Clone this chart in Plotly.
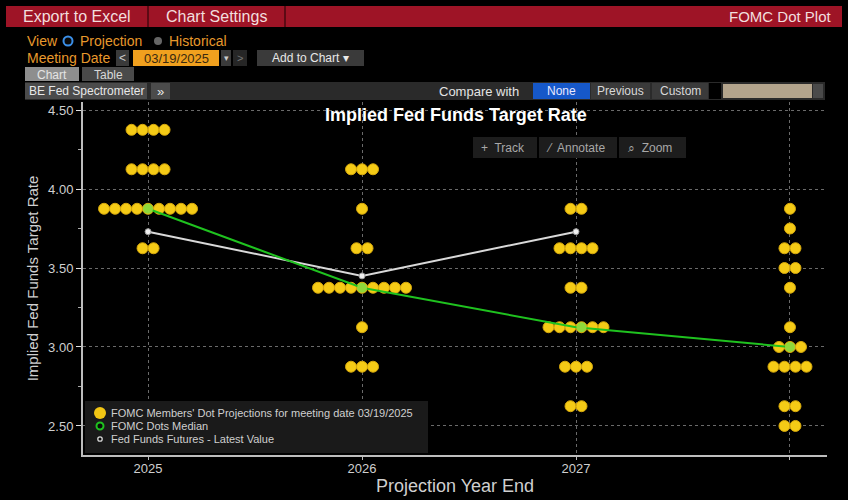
import plotly.graph_objects as go

# ---------------- data ----------------
categories = ["2025", "2026", "2027", "Longer Run"]
tick_labels = ["2025", "2026", "2027", ""]

dot_rates_2025 = [4.375, 4.125, 3.875, 3.625]
dot_counts_2025 = [4, 4, 9, 2]
dot_rates_2026 = [4.125, 3.875, 3.625, 3.375, 3.125, 2.875]
dot_counts_2026 = [3, 1, 2, 9, 1, 3]
dot_rates_2027 = [3.875, 3.625, 3.375, 3.125, 2.875, 2.625]
dot_counts_2027 = [2, 4, 2, 6, 3, 2]
dot_rates_lr = [3.875, 3.75, 3.625, 3.5, 3.375, 3.125, 3.0, 2.875, 2.625, 2.5]
dot_counts_lr = [1, 1, 2, 2, 1, 1, 3, 4, 2, 2]

median_values = [3.875, 3.375, 3.125, 3.0]
futures_categories = ["2025", "2026", "2027"]
futures_values = [3.73, 3.45, 3.73]

y_ticks = [2.5, 3.0, 3.5, 4.0, 4.5]

# ---------------- geometry helpers ----------------
W, H = 848, 500
L, R, T, B = 83, 827, 102, 455
def px(x):
    return (x - L) / (R - L)
def py(y):
    return (B - y) / (B - T)

DOT_STEP = 11 / 214.0  # horizontal spacing between stacked dots (category units)

dot_groups = [
    (dot_rates_2025, dot_counts_2025),
    (dot_rates_2026, dot_counts_2026),
    (dot_rates_2027, dot_counts_2027),
    (dot_rates_lr, dot_counts_lr),
]
dx, dy = [], []
med_x = []
for ci, (rates, counts) in enumerate(dot_groups):
    for r, n in zip(rates, counts):
        for k in range(n):
            dx.append(ci + (k - (n - 1) / 2) * DOT_STEP)
            dy.append(r)
        if r == median_values[ci]:
            med_x.append(ci + (n // 2 - (n - 1) / 2) * DOT_STEP)

cat_index = {c: i for i, c in enumerate(categories)}

fig = go.Figure()

fig.add_trace(go.Scatter(
    x=[cat_index[c] for c in futures_categories], y=futures_values, mode="lines+markers",
    line=dict(color="#d9d9d9", width=2),
    marker=dict(symbol="circle", size=6, color="#f0f0f0", line=dict(color="#999", width=1)),
    showlegend=False, hoverinfo="skip"))
fig.add_trace(go.Scatter(
    x=dx, y=dy, mode="markers",
    marker=dict(symbol="circle", size=11, color="#f5cb16", line=dict(color="#d6a80c", width=1)),
    showlegend=False, hoverinfo="skip"))
fig.add_trace(go.Scatter(
    x=[cat_index[c] for c in categories], y=median_values, mode="lines",
    line=dict(color="#1fc21f", width=2), showlegend=False, hoverinfo="skip"))
fig.add_trace(go.Scatter(
    x=med_x, y=median_values, mode="markers",
    marker=dict(symbol="circle", size=10, color="#8fd83a", line=dict(width=0)),
    showlegend=False, hoverinfo="skip"))

FONT = "Liberation Sans, Arial, sans-serif"
shapes = []
ann = []

def rect(x0, y0, x1, y1, fill, line=None):
    shapes.append(dict(type="rect", xref="paper", yref="paper", layer="above",
                       x0=px(x0), x1=px(x1), y0=py(y1), y1=py(y0),
                       fillcolor=fill, line=dict(width=0) if line is None else line))

def circ(cx, cy, r, fill, lc=None, lw=0):
    shapes.append(dict(type="circle", xref="paper", yref="paper", layer="above",
                       x0=px(cx - r), x1=px(cx + r), y0=py(cy + r), y1=py(cy - r),
                       fillcolor=fill, line=dict(color=lc or fill, width=lw)))

def text(x, y, s, size=12, color="#ddd", anchor="left", bold=False):
    if bold:
        s = "<b>" + s + "</b>"
    ann.append(dict(xref="paper", yref="paper", x=px(x), y=py(y), text=s,
                    showarrow=False, xanchor=anchor, yanchor="middle",
                    font=dict(family=FONT, size=size, color=color)))

# header bar
rect(6, 6, 842, 27, "#9e1426")
rect(147, 6, 149, 27, "#5c0a14")
rect(284, 6, 286, 27, "#5c0a14")
text(21, 16.5, "Export to Excel", 16, "#f2dede")
text(164, 16.5, "Chart Settings", 16, "#f2dede")
text(834, 16.5, "FOMC Dot Plot", 15, "#f2dede", anchor="right")

# view row
ORANGE = "#e8992c"
text(25, 41, "View", 14, ORANGE)
circ(68, 41, 4.5, "#0a0a0a", "#3b8fe8", 2)
text(78, 41, "Projection", 14, ORANGE)
circ(158, 41, 4, "#666666")
text(167, 41, "Historical", 14, ORANGE)

# meeting date row
text(25, 58, "Meeting Date", 14, ORANGE)
rect(116, 50, 129, 66, "#3a3a3a")
text(122.5, 58, "&lt;", 12, "#ccc", anchor="center")
rect(133, 50, 219, 66, "#f0a01e")
text(176, 58, "03/19/2025", 13, "#3a2a10", anchor="center")
rect(221, 50, 231, 66, "#3a3a3a")
text(226, 58, "▾", 9, "#ccc", anchor="center")
rect(233, 50, 247, 66, "#262626")
text(240, 58, "&gt;", 11, "#777", anchor="center")
rect(257, 50, 364, 66, "#3a3a3a")
text(310, 58, "Add to Chart ▾", 12, "#e8e8e8", anchor="center")

# tabs
rect(25, 67, 79, 81, "#8e8e8e")
text(52, 74.5, "Chart", 12, "#e4e4e4", anchor="center")
rect(82, 67, 134, 81, "#4a4a4a")
text(108, 74.5, "Table", 12, "#d8d8d8", anchor="center")

# toolbar row
rect(25, 82, 825, 100, "#2a2a2a")
rect(25, 83, 147, 99, "#4b4b4b")
text(86, 91, "BE Fed Spectrometer", 12, "#e8e8e8", anchor="center")
rect(151, 83, 170, 99, "#4b4b4b")
text(160.5, 91, "»", 13, "#e8e8e8", anchor="center")
text(437, 91, "Compare with", 13, "#e4e4e4")
rect(533, 83, 590, 99, "#1658c9")
text(561.5, 91, "None", 12, "#e8e8ff", anchor="center")
rect(591, 83, 650, 99, "#3a3a3a")
text(620.5, 91, "Previous", 12, "#d8d8d8", anchor="center")
rect(652, 83, 708, 99, "#3a3a3a")
text(680, 91, "Custom", 12, "#d8d8d8", anchor="center")
rect(709, 83, 721, 99, "#000000")
rect(723, 84, 812, 98, "#b3a48c")
rect(813, 84, 823, 98, "#4a4a4a")

# chart title and tool buttons
text(456, 115, "Implied Fed Funds Target Rate", 18, "#ffffff", anchor="center", bold=True)
rect(473, 137, 537, 158, "#1d1d1d")
rect(539, 137, 617, 158, "#1d1d1d")
rect(619, 137, 686, 158, "#1d1d1d")
text(479, 147.5, "+  Track", 12, "#a8a8a8")
text(544, 147.5, "⁄  Annotate", 12, "#a8a8a8")
text(626, 147.5, "⌕  Zoom", 12, "#a8a8a8")

# legend
rect(85, 401, 428, 453, "#1a1a1a")
circ(100, 413, 6, "#f2c614")
circ(100, 426, 3.5, "#0a0a0a", "#1fc21f", 2)
circ(100, 439, 2.2, "#0a0a0a", "#d8d8d8", 1.3)
leg_col = "#cfcfcf"
text(109, 413, "FOMC Members' Dot Projections for meeting date 03/19/2025", 11, leg_col)
text(109, 426, "FOMC Dots Median", 11, leg_col)
text(109, 439, "Fed Funds Futures - Latest Value", 11, leg_col)

fig.update_layout(
    width=W, height=H,
    margin=dict(l=L, r=W - R, t=T, b=H - B, autoexpand=False),
    paper_bgcolor="#000000", plot_bgcolor="#000000",
    showlegend=False,
    shapes=shapes, annotations=ann,
    font=dict(family=FONT, color="#cccccc"),
    xaxis=dict(
        range=[-0.304, 3.173], tickmode="array", automargin=False,
        tickvals=list(range(len(categories))), ticktext=tick_labels,
        showgrid=True, gridcolor="#6a6a6a", griddash="dot", gridwidth=1,
        zeroline=False, showline=True, linecolor="#bdbdbd", linewidth=2,
        ticks="outside", ticklen=3, tickcolor="#bdbdbd",
        ticklabelstandoff=-3,
        tickfont=dict(size=13, color="#cfcfcf"),
        title=dict(text="Projection Year End", font=dict(size=18, color="#cfcfcf"), standoff=2),
    ),
    yaxis=dict(
        range=[2.316, 4.551], tickmode="array", tickvals=y_ticks, automargin=False,
        ticktext=[f"{v:.2f}" for v in y_ticks],
        showgrid=True, gridcolor="#6a6a6a", griddash="dot", gridwidth=1,
        zeroline=False, showline=True, linecolor="#bdbdbd", linewidth=2,
        ticks="outside", ticklen=5, tickcolor="#e0e0e0",
        minor=dict(dtick=0.25, tick0=2.5, ticks="outside", ticklen=3,
                   tickcolor="#aaaaaa", showgrid=False),
        tickfont=dict(size=13, color="#cfcfcf"),
        title=dict(text="Implied Fed Funds Target Rate", font=dict(size=15, color="#cfcfcf"), standoff=6),
    ),
)

fig.write_html(
    "out.html",
    config={"displayModeBar": False},
    post_script="document.body.style.margin='0';document.body.style.background='#000';",
)
